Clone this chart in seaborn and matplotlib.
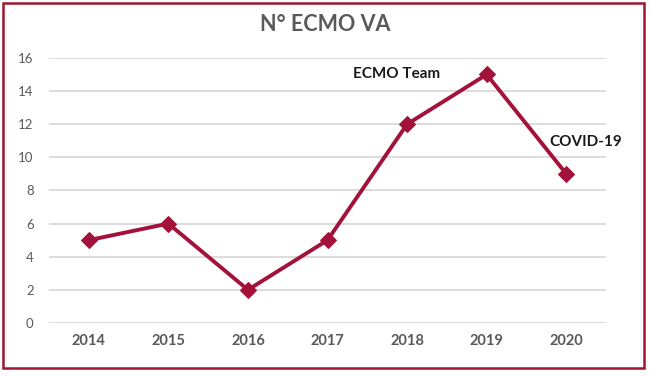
import pandas as pd
import matplotlib.pyplot as plt
import matplotlib.patches as mpatches
import seaborn as sns

years = ['2014', '2015', '2016', '2017', '2018', '2019', '2020']
ecmo_va = [5, 6, 2, 5, 12, 15, 9]
y_ticks = [0, 2, 4, 6, 8, 10, 12, 14, 16]

df = pd.DataFrame({'year': years, 'n': ecmo_va})

sns.set_style("white")
plt.rcParams['font.family'] = ['Lato', 'DejaVu Sans']

red = '#A3123A'
fig = plt.figure(figsize=(6.5, 3.76), dpi=100)
ax = fig.add_axes([0.0754, 0.141, 0.857, 0.705])

sns.lineplot(data=df, x='year', y='n', ax=ax, color=red, linewidth=2.8,
             marker='D', markersize=8.5, markeredgecolor=red, sort=False)

ax.set_xlim(-0.5, len(years) - 0.5)
ax.set_ylim(0, 16)
ax.set_yticks(y_ticks)
ax.yaxis.grid(True, color='#D9D9D9', linewidth=1.3)
ax.set_axisbelow(True)
for s in ax.spines.values():
    s.set_visible(False)
ax.tick_params(axis='both', length=0, colors='#595959')
ax.tick_params(axis='y', labelsize=9.5, pad=11)
ax.tick_params(axis='x', labelsize=10.5, pad=8)
for lbl in ax.get_xticklabels():
    lbl.set_fontweight('bold')
ax.set_xlabel('')
ax.set_ylabel('')

ax.text(3.87, 15.0, 'ECMO Team', fontsize=11, fontweight='bold', color='#1a1a1a',
        ha='center', va='center')
ax.text(6.25, 10.9, 'COVID-19', fontsize=11, fontweight='bold', color='#1a1a1a',
        ha='center', va='center')

fig.text(0.5, 0.936, 'N° ECMO VA', fontsize=15.5, fontweight='bold', color='#595959',
         ha='center', va='center')

border = mpatches.Rectangle((0.0046, 0.0213), 0.986, 0.971, transform=fig.transFigure,
                            fill=False, edgecolor='#A0152F', linewidth=1.8)
fig.patches.append(border)

plt.savefig('out.png', dpi=100)
